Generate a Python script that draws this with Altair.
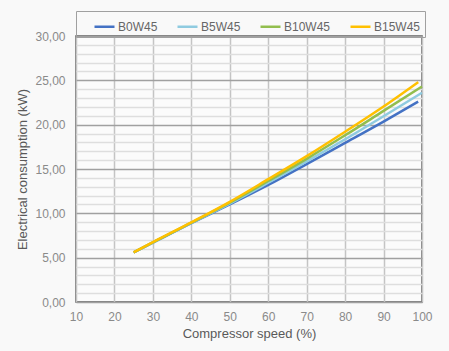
import altair as alt
import pandas as pd

series = ["B0W45", "B5W45", "B10W45", "B15W45"]
colors = ["#4472C4", "#8FCBE0", "#92BE4E", "#FFC000"]

speed_b0 = [25, 30, 40, 50, 60, 70, 80, 90, 99]
kw_b0 = [5.6, 6.7, 8.9, 11.0, 13.2, 15.55, 17.95, 20.35, 22.6]
speed_b5 = [25, 30, 40, 50, 60, 70, 80, 90, 100]
kw_b5 = [5.6, 6.7, 8.92, 11.1, 13.45, 15.85, 18.35, 20.95, 23.6]
speed_b10 = [25, 30, 40, 50, 60, 70, 80, 90, 100]
kw_b10 = [5.6, 6.72, 8.95, 11.2, 13.65, 16.15, 18.8, 21.55, 24.3]
speed_b15 = [25, 30, 40, 50, 60, 70, 80, 90, 99]
kw_b15 = [5.6, 6.75, 8.98, 11.3, 13.85, 16.45, 19.2, 22.05, 24.8]

x_ticks = [10, 20, 30, 40, 50, 60, 70, 80, 90, 100]
y_grid = list(range(0, 31))

rows = []
for name, xs, ys in [("B0W45", speed_b0, kw_b0), ("B5W45", speed_b5, kw_b5),
                     ("B10W45", speed_b10, kw_b10), ("B15W45", speed_b15, kw_b15)]:
    for o, (sx, vy) in enumerate(zip(xs, ys)):
        rows.append({"series": name, "speed": sx, "kw": vy, "o": o})
df = pd.DataFrame(rows)

FONT = "Liberation Sans"

chart = alt.Chart(df).mark_line(strokeWidth=2.5, interpolate="monotone").encode(
    x=alt.X("speed:Q",
            scale=alt.Scale(domain=[10, 100], nice=False, zero=False),
            axis=alt.Axis(values=x_ticks, title="Compressor speed (%)",
                          grid=True, gridColor="#c4c4c4", gridWidth=1.5,
                          ticks=False, domain=False, labelPadding=9,
                          labelFlush=False,
                          labelFontSize=12, labelColor="#8a8a8a",
                          titleFontSize=13, titleColor="#595959",
                          titleFontWeight="normal", titlePadding=5,
                          labelFont=FONT, titleFont=FONT)),
    y=alt.Y("kw:Q",
            scale=alt.Scale(domain=[0, 30], nice=False),
            axis=alt.Axis(values=y_grid, title="Electrical consumption (kW)",
                          grid=True,
                          gridColor={"condition": {"test": "datum.value % 5 === 0", "value": "#a0a0a0"}, "value": "#dedede"},
                          gridWidth=1.5,
                          labelExpr="datum.value % 5 === 0 ? replace(format(datum.value, '.2f'), '.', ',') : ''",
                          ticks=False, domain=False, labelPadding=11,
                          labelFlush=False,
                          labelFontSize=12, labelColor="#8a8a8a",
                          titleFontSize=13, titleColor="#595959",
                          titleFontWeight="normal", titlePadding=5,
                          labelFont=FONT, titleFont=FONT)),
    color=alt.Color("series:N",
                    scale=alt.Scale(domain=series, range=colors),
                    sort=series,
                    legend=alt.Legend(title=None, orient="none", direction="horizontal",
                                      legendX=0, legendY=-25, columns=4,
                                      symbolType="stroke", symbolSize=400,
                                      symbolStrokeWidth=2.5, symbolOffset=13,
                                      columnPadding=5, labelOffset=2,
                                      labelFontSize=12, labelFontWeight="normal",
                                      labelColor="#666666",
                                      labelFont=FONT, padding=4,
                                      strokeColor="#a0a0a0")),
    order="o:Q",
).properties(
    width=346, height=266,
    autosize=alt.AutoSizeParams(type="none"),
    padding={"left": 76, "top": 36, "right": 27, "bottom": 49},
    background="#f9f9f9",
).configure_view(stroke="#595959", strokeWidth=1.5, fill="#fbfbfb")

chart.save("out.html", embed_options={"renderer": "svg", "actions": False})
